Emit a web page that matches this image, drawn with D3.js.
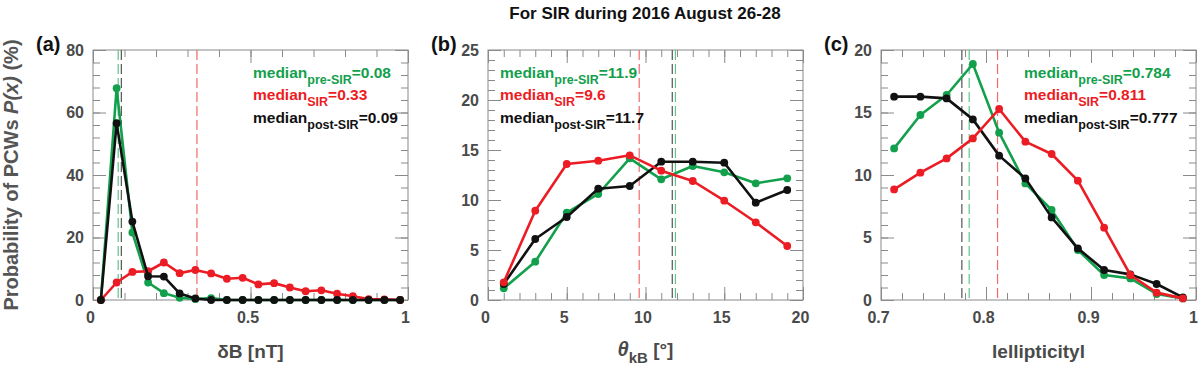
<!DOCTYPE html>
<html><head><meta charset="utf-8">
<script src="https://cdn.jsdelivr.net/npm/d3@7"></script>
<style>
html,body{margin:0;padding:0;background:#fff;}
svg{display:block;font-family:"Liberation Sans",Arial,Helvetica,sans-serif;}
</style></head>
<body><svg id="c" width="1200" height="370"></svg>
<script>
// ---------- data ----------
const dbBins  = [0.025,0.075,0.125,0.175,0.225,0.275,0.325,0.375,0.425,0.475,0.525,0.575,0.625,0.675,0.725,0.775,0.825,0.875,0.925,0.975];
const dbPre   = [0,67.8,21.6,5.6,2.2,0.7,0.3,0.6,0,0,0,0,0,0,0,0,0,0,0,0];
const dbSir   = [0,5.6,9.0,9.2,12.0,8.6,9.6,8.5,6.8,7.1,5.0,5.4,4.0,2.8,3.1,2.0,1.2,0.3,0.2,0];
const dbPost  = [0,56.6,25.1,7.6,7.5,2.1,0.5,0,0,0,0,0,0,0,0,0,0,0,0,0];
const dbMedians = [0.08,0.33,0.09];

const thBins  = [1,3,5,7,9,11,13,15,17,19];
const thPre   = [1.17,3.83,8.73,10.6,14.17,12.07,13.4,12.77,11.67,12.17];
const thSir   = [1.77,8.93,13.6,13.93,14.47,12.93,11.9,9.93,7.77,5.4];
const thPost  = [1.6,6.1,8.3,11.13,11.4,13.83,13.83,13.73,9.73,11.0];
const thMedians = [11.9,9.6,11.7];

const elBins  = [0.7125,0.7375,0.7625,0.7875,0.8125,0.8375,0.8625,0.8875,0.9125,0.9375,0.9625,0.9875];
const elPre   = [12.13,14.8,16.4,18.88,13.39,9.33,7.2,4.0,2.0,1.73,0.48,0.13];
const elSir   = [8.85,10.19,11.33,12.93,15.28,12.67,11.68,9.55,5.79,2.0,0.59,0.13];
const elPost  = [16.27,16.27,16.13,14.45,11.55,9.73,6.61,4.13,2.40,2.05,1.28,0.21];
const elMedians = [0.784,0.811,0.777];

const seriesNames = ["pre-SIR","SIR","post-SIR"];
const panelLetters = ["(a)","(b)","(c)"];

const dbXTicks = [0,0.5,1], dbXMinor = [0,0.1,0.2,0.3,0.4,0.5,0.6,0.7,0.8,0.9,1];
const dbYTicks = [0,20,40,60,80], dbYMinor = [0,4,8,12,16,20,24,28,32,36,40,44,48,52,56,60,64,68,72,76,80];
const thXTicks = [0,5,10,15,20], thXMinor = d3.range(0,21,1);
const thYTicks = [0,5,10,15,20,25], thYMinor = d3.range(0,26,1);
const elXTicks = [0.7,0.8,0.9,1], elXMinor = [0.7,0.72,0.74,0.76,0.78,0.8,0.82,0.84,0.86,0.88,0.9,0.92,0.94,0.96,0.98,1];
const elYTicks = [0,5,10,15,20], elYMinor = d3.range(0,21,1);

// ---------- style ----------
const colors = {"pre-SIR":"#13a04c","SIR":"#ec1c24","post-SIR":"#111111"};
const dashColors = {"pre-SIR":"#5fc48a","SIR":"#f06a6a","post-SIR":"#555555"};
const frameColor = "#8a8a8a", tickLabelColor = "#4a4a4a";

const svg = d3.select("#c");
const W = 315, plotTop = 50, plotBottom = 300;

const panels = [
  {left:93, dom:[0,1], ydom:[0,80], bins:dbBins, vals:[dbPre,dbSir,dbPost], med:dbMedians,
   xt:dbXTicks, xm:dbXMinor, yt:dbYTicks, ym:dbYMinor, fmt:d=>String(d),
   order:[0,1,2], annX:253},
  {left:488, dom:[0,20], ydom:[0,25], bins:thBins, vals:[thPre,thSir,thPost], med:thMedians,
   xt:thXTicks, xm:thXMinor, yt:thYTicks, ym:thYMinor, fmt:d=>String(d), order:[0,2,1], annX:500},
  {left:881, dom:[0.7,1], ydom:[0,20], bins:elBins, vals:[elPre,elSir,elPost], med:elMedians,
   xt:elXTicks, xm:elXMinor, yt:elYTicks, ym:elYMinor, fmt:d=>d===1?"1":d3.format(".1f")(d), order:[0,2,1], annX:1024}
];

panels.forEach((p,pi)=>{
  const x = d3.scaleLinear().domain(p.dom).range([p.left,p.left+W]);
  const y = d3.scaleLinear().domain(p.ydom).range([plotBottom,plotTop]);
  const g = svg.append("g");

  g.append("rect").attr("x",p.left).attr("y",plotTop).attr("width",W).attr("height",plotBottom-plotTop)
    .attr("fill","none").attr("stroke",frameColor).attr("stroke-width",1);

  const styleAxis = sel => { sel.select(".domain").remove(); sel.selectAll("line").attr("stroke",frameColor); };
  const styleText = sel => sel.selectAll("text").attr("fill",tickLabelColor).attr("font-size",16)
      .attr("font-weight","bold").attr("font-family","Liberation Sans, Arial, sans-serif");
  g.append("g").attr("transform",`translate(0,${plotBottom})`)
    .call(d3.axisBottom(x).tickValues(p.xt).tickSize(-13).tickPadding(12).tickFormat(p.fmt))
    .call(styleAxis).call(styleText)
    .call(s=>s.selectAll("text").attr("dx",-3));
  g.append("g").attr("transform",`translate(0,${plotBottom})`)
    .call(d3.axisBottom(x).tickValues(p.xm).tickSize(-7).tickFormat("")).call(styleAxis);
  g.append("g").attr("transform",`translate(0,${plotTop})`)
    .call(d3.axisTop(x).tickValues(p.xt).tickSize(-13).tickFormat("")).call(styleAxis);
  g.append("g").attr("transform",`translate(0,${plotTop})`)
    .call(d3.axisTop(x).tickValues(p.xm).tickSize(-7).tickFormat("")).call(styleAxis);
  g.append("g").attr("transform",`translate(${p.left},0)`)
    .call(d3.axisLeft(y).tickValues(p.yt).tickSize(-13).tickPadding(9).tickFormat(d=>String(d)))
    .call(styleAxis).call(styleText);
  g.append("g").attr("transform",`translate(${p.left},0)`)
    .call(d3.axisLeft(y).tickValues(p.ym).tickSize(-7).tickFormat("")).call(styleAxis);
  g.append("g").attr("transform",`translate(${p.left+W},0)`)
    .call(d3.axisRight(y).tickValues(p.yt).tickSize(-13).tickFormat("")).call(styleAxis);
  g.append("g").attr("transform",`translate(${p.left+W},0)`)
    .call(d3.axisRight(y).tickValues(p.ym).tickSize(-7).tickFormat("")).call(styleAxis);

  p.med.forEach((m,si)=>{
    g.append("line").attr("x1",x(m)).attr("x2",x(m)).attr("y1",plotTop).attr("y2",plotBottom)
      .attr("stroke",dashColors[seriesNames[si]]).attr("stroke-width",1.2).attr("stroke-dasharray","10,4");
  });

  const line = d3.line().x((d,i)=>x(p.bins[i])).y(d=>y(d));
  p.order.forEach(si=>{
    const c = colors[seriesNames[si]];
    g.append("path").datum(p.vals[si]).attr("d",line).attr("fill","none")
      .attr("stroke",c).attr("stroke-width",2.6).attr("stroke-linejoin","round");
    g.selectAll(null).data(p.vals[si]).enter().append("circle")
      .attr("cx",(d,i)=>x(p.bins[i])).attr("cy",d=>y(d)).attr("r",3.9).attr("fill",c);
  });

  p.med.forEach((m,si)=>{
    const t = g.append("text").attr("x",p.annX).attr("y",77.5+si*22.7)
      .attr("fill",colors[seriesNames[si]]).attr("font-weight","bold").attr("font-size",15.5);
    t.append("tspan").text("median");
    t.append("tspan").attr("dy",6).attr("font-size",12.5).text(seriesNames[si]);
    t.append("tspan").attr("dy",-6).text("="+m);
  });

  svg.append("text").attr("x",p.left-57).attr("y",51).attr("font-size",20).attr("font-weight","bold")
    .attr("fill","#111").text(panelLetters[pi]);
});

const xl = svg.append("g").attr("font-weight","bold").attr("font-size",19).attr("fill",tickLabelColor).attr("text-anchor","middle");
xl.append("text").attr("x",93+W/2).attr("y",358).text("δB [nT]");
const th = xl.append("text").attr("x",488+W/2).attr("y",356);
th.append("tspan").attr("font-style","italic").attr("font-size",20).text("θ");
th.append("tspan").attr("dy",7).attr("font-size",15).text("kB");
th.append("tspan").attr("dy",-7).text(" [°]");
xl.append("text").attr("x",881+W/2).attr("y",358).text("lellipticityl");

const yl = svg.append("text").attr("transform","translate(18,175) rotate(-90)").attr("text-anchor","middle")
  .attr("font-weight","bold").attr("font-size",20).attr("fill","#555");
yl.append("tspan").text("Probability of PCWs ");
yl.append("tspan").attr("font-style","italic").text("P(x)");
yl.append("tspan").text(" (%)");

svg.append("text").attr("x",645).attr("y",19).attr("text-anchor","middle").attr("font-weight","bold")
  .attr("font-size",17).attr("fill","#111").text("For SIR during 2016 August 26-28");
</script></body></html>
